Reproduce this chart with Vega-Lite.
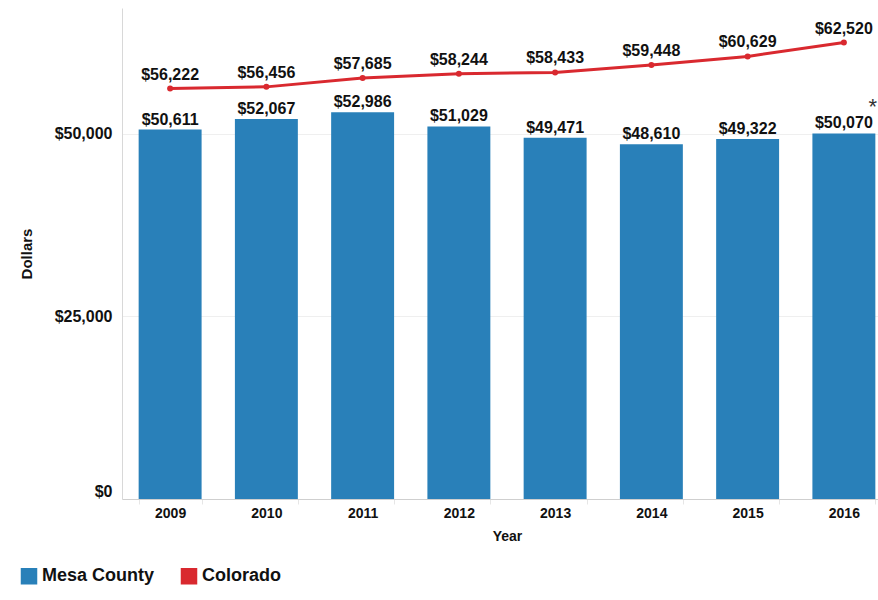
{
  "$schema": "https://vega.github.io/schema/vega-lite/v6.json",
  "autosize": "none",
  "width": 756,
  "height": 491,
  "padding": {"left": 122, "top": 8, "right": 0, "bottom": 101},
  "background": "white",
  "config": {
    "font": "Liberation Sans",
    "view": {"stroke": null},
    "axis": {"labelFont": "Liberation Sans", "titleFont": "Liberation Sans", "labelColor": "#111", "titleColor": "#111", "labelFontWeight": "bold", "titleFontWeight": "bold"}
  },
  "data": {
    "values": [
      {"year": "2009", "series": "Mesa County", "value": 50611},
      {"year": "2010", "series": "Mesa County", "value": 52067},
      {"year": "2011", "series": "Mesa County", "value": 52986},
      {"year": "2012", "series": "Mesa County", "value": 51029},
      {"year": "2013", "series": "Mesa County", "value": 49471},
      {"year": "2014", "series": "Mesa County", "value": 48610},
      {"year": "2015", "series": "Mesa County", "value": 49322},
      {"year": "2016", "series": "Mesa County", "value": 50070},
      {"year": "2009", "series": "Colorado", "value": 56222},
      {"year": "2010", "series": "Colorado", "value": 56456},
      {"year": "2011", "series": "Colorado", "value": 57685},
      {"year": "2012", "series": "Colorado", "value": 58244},
      {"year": "2013", "series": "Colorado", "value": 58433},
      {"year": "2014", "series": "Colorado", "value": 59448},
      {"year": "2015", "series": "Colorado", "value": 60629},
      {"year": "2016", "series": "Colorado", "value": 62520}
    ]
  },
  "encoding": {
    "x": {
      "field": "year", "type": "ordinal", "title": "Year",
      "scale": {"range": [0, 770], "paddingInner": 0.346, "paddingOuter": 0.173},
      "axis": {"labelAngle": 0, "labelFontSize": 14, "titleFontSize": 14, "tickBand": "extent", "tickSize": 5, "tickColor": "#e6e6e6", "domainColor": "#cfcfcf", "labelPadding": 2, "titlePadding": 9}
    },
    "y": {
      "field": "value", "type": "quantitative", "title": "Dollars",
      "scale": {"domain": [0, 67260], "nice": false},
      "axis": {"values": [0, 25000, 50000], "format": "$,d", "labelFontSize": 16, "titleFontSize": 15, "ticks": false, "labelPadding": 10, "labelFlush": true, "gridColor": "#efefef", "domainColor": "#d8d8d8", "titlePadding": 20}
    },
    "color": {
      "field": "series", "type": "nominal", "title": null,
      "scale": {"domain": ["Mesa County", "Colorado"], "range": ["#2980b9", "#d9292f"]},
      "legend": {
        "orient": "none", "legendX": -102, "legendY": 559, "direction": "horizontal",
        "symbolType": "square", "symbolSize": 225, "labelFontSize": 18, "labelFontWeight": "bold", "labelColor": "#111", "labelFont": "Liberation Sans",
        "columnPadding": 23, "labelOffset": 4,
        "encode": {"symbols": {"update": {"fill": {"scale": "color", "field": "value"}, "stroke": {"value": "transparent"}, "fillOpacity": {"value": 1}}}}
      }
    }
  },
  "layer": [
    {
      "transform": [{"filter": "datum.series === 'Mesa County'"}],
      "layer": [
        {"mark": {"type": "bar"}},
        {"mark": {"type": "text", "baseline": "alphabetic", "dy": -5, "fontSize": 16, "fontWeight": "bold", "color": "#111"},
         "encoding": {"text": {"field": "value", "format": "$,d"}, "color": {"value": "#111"}}},
        {"transform": [{"filter": "datum.year === '2016'"}],
         "mark": {"type": "text", "baseline": "middle", "dx": 29, "dy": -26, "fontSize": 22, "color": "#333"},
         "encoding": {"text": {"value": "*"}, "color": {"value": "#333"}}}
      ]
    },
    {
      "transform": [{"filter": "datum.series === 'Colorado'"}],
      "layer": [
        {"mark": {"type": "line", "strokeWidth": 3, "point": {"filled": true, "size": 36}}},
        {"mark": {"type": "text", "baseline": "alphabetic", "dy": -9, "fontSize": 16, "fontWeight": "bold", "color": "#111"},
         "encoding": {"text": {"field": "value", "format": "$,d"}, "color": {"value": "#111"}}}
      ]
    }
  ]
}
